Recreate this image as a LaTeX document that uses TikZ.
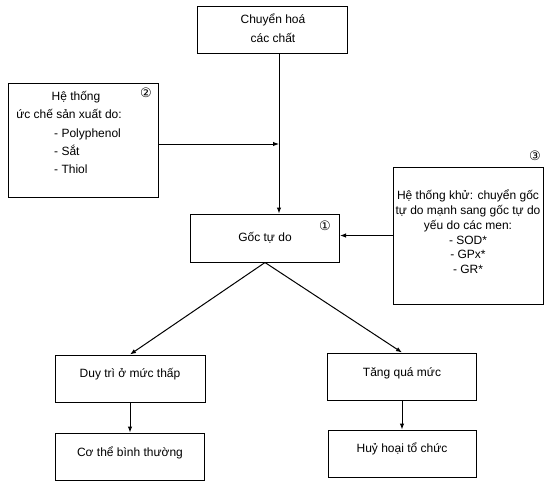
\documentclass[tikz,border=0pt]{standalone}
\usepackage{fontspec}
\setmainfont{Liberation Sans}
\newfontfamily\symfont{DejaVu Sans}
\usetikzlibrary{arrows.meta}
\begin{document}
\begin{tikzpicture}[x=1pt,y=-1pt,
  box/.style={draw, line width=1pt, inner sep=0pt},
  lbl/.style={font=\fontsize{12}{14}\selectfont, inner sep=0pt},
  num/.style={font=\symfont\fontsize{13}{15}\selectfont, inner sep=0pt},
  arr/.style={line width=1pt, -{Latex[length=6pt,width=4.5pt]}},
]
\useasboundingbox (0,0) rectangle (548,483);

% boxes
\node[box, minimum width=150pt, minimum height=47pt] (top) at (272,29.5) {};
\node[box, minimum width=150pt, minimum height=114pt] (box2) at (83,140) {};
\node[box, minimum width=149pt, minimum height=48pt] (goc) at (265,238) {};
\node[box, minimum width=150pt, minimum height=137pt] (box3) at (468,235.5) {};
\node[box, minimum width=150pt, minimum height=47pt] (duy) at (130,378.5) {};
\node[box, minimum width=149pt, minimum height=47pt] (co) at (130,456.5) {};
\node[box, minimum width=149pt, minimum height=47pt] (tang) at (402,376.5) {};
\node[box, minimum width=148pt, minimum height=47pt] (huy) at (402,453.5) {};

% texts
\node[lbl, font=\fontsize{12}{19}\selectfont, align=center] (toptxt) at (273,28) {Chuyển hoá\\các chất};

\node[lbl, anchor=base] (b2a) at (76,100) {Hệ thống};
\node[lbl, anchor=base] (b2b) at (69,118) {ức chế sản xuất do:};
\node[lbl, anchor=base west] (b2c) at (54,137) {- Polyphenol};
\node[lbl, anchor=base west] (b2d) at (54,155) {- Sắt};
\node[lbl, anchor=base west] (b2e) at (54,173) {- Thiol};

\node[lbl, font=\fontsize{12}{14.8}\selectfont, align=center] (b3txt) at (468,232)
  {Hệ thống khử: chuyển gốc\\tự do mạnh sang gốc tự do\\yếu do các men:\\- SOD*\\- GPx*\\- GR*};

\node[lbl, anchor=base] (goctxt) at (265,241.5) {Gốc tự do};
\node[lbl, anchor=base] (duytxt) at (130,377.5) {Duy trì ở mức thấp};
\node[lbl, anchor=base] (cotxt) at (130,456.5) {Cơ thể bình thường};
\node[lbl, anchor=base] (tangtxt) at (402,376.5) {Tăng quá mức};
\node[lbl, anchor=base] (huytxt) at (402,452.5) {Huỷ hoại tổ chức};

% circled numbers
\node[num] (n1) at (325,226) {①};
\node[num] (n2) at (146,93) {②};
\node[num] (n3) at (535,156) {③};

% connectors
\coordinate (j) at (279,144);
\coordinate (k) at (0,235.5);
\draw[arr] (top.south -| j) -- (goc.north -| j);
\draw[arr] (box2.east |- j) -- (j);
\draw[arr] (box3.west |- k) -- (goc.east |- k);
\draw[arr] (goc.south) -- (duy.north);
\draw[arr] (goc.south) -- (tang.north);
\draw[arr] (duy.south) -- (co.north);
\draw[arr] (tang.south) -- (huy.north);
\end{tikzpicture}
\end{document}
